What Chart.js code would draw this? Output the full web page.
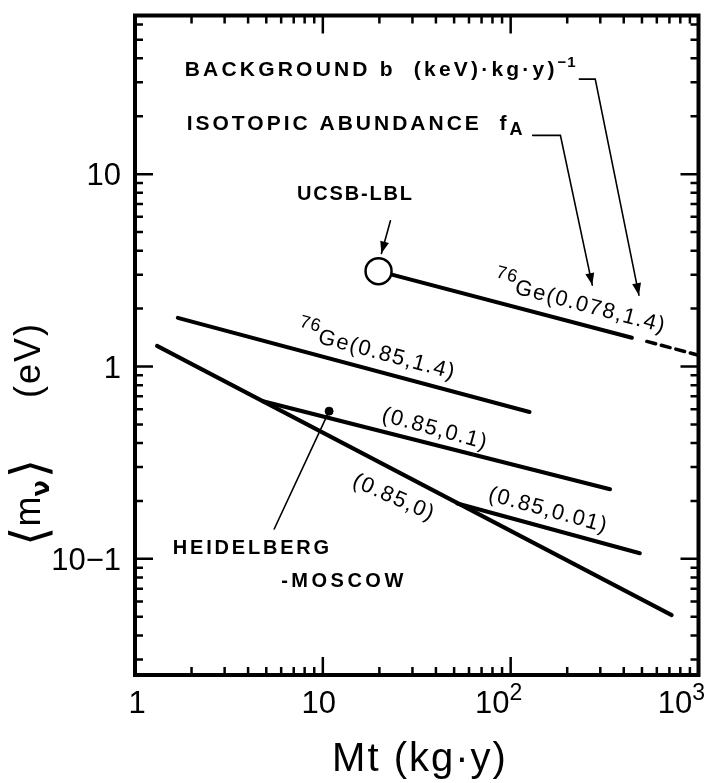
<!DOCTYPE html>
<html>
<head>
<meta charset="utf-8">
<script src="https://cdn.jsdelivr.net/npm/chart.js@4.4.1/dist/chart.umd.min.js"></script>
<style>
  html, body { margin: 0; padding: 0; background: #fff; }
  #wrap { width: 714px; height: 783px; }
</style>
</head>
<body>
<div id="wrap"><canvas id="plot" width="714" height="783"></canvas></div>
<script>
// exposure Mt (kg·y) against mass limit <m_nu> (eV)
const geHighBgMt = [1.69, 126];        // 76Ge(0.85,1.4)
const geHighBgMass = [1.79, 0.58];
const zeroBgMt = [1.31, 720];          // (0.85,0)
const zeroBgMass = [1.28, 0.051];
const bgTenthMt = [4.8, 338];          // (0.85,0.1)
const bgTenthMass = [0.66, 0.23];
const bgHundredthMt = [52, 487];       // (0.85,0.01)
const bgHundredthMass = [0.194, 0.107];
const ucsbMt = [19.8, 442];            // 76Ge(0.078,1.4)
const ucsbMass = [3.13, 1.41];
const ucsbExtMt = [531, 1000];         // dashed continuation
const ucsbExtMass = [1.35, 1.145];

const ucsbPointMt = [19.8];
const ucsbPointMass = [3.13];
const hmPointMt = [10.8];
const hmPointMass = [0.586];

// leader lines of the annotations
const bgLeaderMt = [232, 282, 482];
const bgLeaderMass = [31.2, 31.2, 2.35];
const faLeaderMt = [131, 184, 272];
const faLeaderMass = [15.9, 15.9, 2.65];
const ucsbArrowMt = [22.9, 20.5];
const ucsbArrowMass = [5.72, 3.87];
const hmLeaderMt = [5.51, 10.8];
const hmLeaderMass = [0.143, 0.586];

// axes
const xMin = 1, xMax = 1000;
const yMin = 0.0249, yMax = 66.8;
const xDecades = [1, 10, 100, 1000];
const xTickBase = ["1", "10", "10", "10"];
const xTickSup = ["", "", "2", "3"];
const yDecades = [0.1, 1, 10];
const yTickLabels = ["10\u22121", "1", "10"];

const FONT = '"Liberation Sans", Arial, sans-serif';
const DEJAVU = '"DejaVu Sans", sans-serif';

function toPoints(xs, ys) {
  return xs.map((x, i) => ({ x, y: ys[i] }));
}

function lineSet(xs, ys, width, dash) {
  return {
    data: toPoints(xs, ys),
    borderColor: "#000",
    borderWidth: width,
    borderDash: dash || [],
    borderCapStyle: "round",
    pointRadius: 0,
    fill: false,
    tension: 0
  };
}

function setSeg(ctx, s) {
  ctx.font = `${s.weight || "normal"} ${s.size}px ${s.family || FONT}`;
  ctx.letterSpacing = (s.spacing || 0) + "px";
}

function richWidth(ctx, segs) {
  let w = 0;
  segs.forEach((s) => {
    setSeg(ctx, s);
    w += ctx.measureText(s.t).width + (s.gap || 0);
  });
  return w;
}

function drawRich(ctx, x, y, segs, align) {
  let cx = x;
  if (align === "center") cx -= richWidth(ctx, segs) / 2;
  if (align === "right") cx -= richWidth(ctx, segs);
  ctx.textAlign = "left";
  ctx.textBaseline = "alphabetic";
  segs.forEach((s) => {
    setSeg(ctx, s);
    ctx.fillText(s.t, cx, y + (s.dy || 0));
    cx += ctx.measureText(s.t).width + (s.gap || 0);
  });
  ctx.letterSpacing = "0px";
}

function arrowHead(ctx, x0, y0, x1, y1) {
  const a = Math.atan2(y1 - y0, x1 - x0);
  ctx.save();
  ctx.translate(x1, y1);
  ctx.rotate(a);
  ctx.beginPath();
  ctx.moveTo(0, 0);
  ctx.lineTo(-12, -4.5);
  ctx.lineTo(-12, 4.5);
  ctx.closePath();
  ctx.fill();
  ctx.restore();
}

const ann = (t, extra) => Object.assign({ t, size: 20, spacing: 2.8, weight: "bold" }, extra || {});
const lab = (t, extra) => Object.assign({ t, size: 22, spacing: 1.5 }, extra || {});

// text placed along a line: at exposure "at", "offset" px above (negative = below)
const lineLabels = [
  { xs: geHighBgMt, ys: geHighBgMass, at: 18.2, offset: 12, tilt: 0,
    segs: [lab("76", { size: 18, dy: -11, spacing: 1 }), lab("Ge(0.85,1.4)")] },
  { xs: ucsbMt, ys: ucsbMass, at: 220, offset: 13, tilt: 0,
    segs: [lab("76", { size: 18, dy: -11, spacing: 1 }), lab("Ge(0.078,1.4)")] },
  { xs: bgTenthMt, ys: bgTenthMass, at: 37.7, offset: 9, tilt: 1,
    segs: [lab("(0.85,0.1)")] },
  { xs: bgHundredthMt, ys: bgHundredthMass, at: 150, offset: 11, tilt: 0,
    segs: [lab("(0.85,0.01)")] },
  { xs: zeroBgMt, ys: zeroBgMass, at: 27, offset: -31, tilt: -4,
    segs: [lab("(0.85,0)")] }
];

// free text, anchored in data coordinates
const textNotes = [
  { mt: 1.84, m: 32.5, align: "left",
    segs: [ann("BACKGROUND b  (keV)\u00b7kg\u00b7y)", { size: 21, spacing: 3.2 }), ann("\u22121", { size: 15, dy: -9, spacing: 1 })] },
  { mt: 1.884, m: 17.0, align: "left",
    segs: [ann("ISOTOPIC ABUNDANCE  f", { size: 21, spacing: 3 }), ann("A", { size: 18, dy: 5, spacing: 1 })] },
  { mt: 14.9, m: 7.3, align: "center", segs: [ann("UCSB-LBL", { spacing: 1.8 })] },
  { mt: 1.589, m: 0.1062, align: "left", segs: [ann("HEIDELBERG")] },
  { mt: 6.0, m: 0.071, align: "left", segs: [ann("-MOSCOW", { spacing: 3.5 })] }
];

const arrows = [
  [bgLeaderMt, bgLeaderMass],
  [faLeaderMt, faLeaderMass],
  [ucsbArrowMt, ucsbArrowMass]
];

const overlay = {
  id: "overlay",
  afterDraw(chart) {
    const ctx = chart.ctx;
    const xs = chart.scales.x;
    const ys = chart.scales.y;
    const area = chart.chartArea;
    ctx.save();
    ctx.fillStyle = "#000";
    ctx.strokeStyle = "#000";

    // frame
    ctx.lineWidth = 4;
    ctx.strokeRect(area.left, area.top, area.right - area.left, area.bottom - area.top);

    // inward ticks on all four sides
    ctx.lineWidth = 2.5;
    ctx.beginPath();
    [1, 10, 100].forEach((d) => {
      for (let k = 1; k <= 10; k++) {
        const v = d * k;
        if (v <= xMin || v >= xMax) continue;
        const len = k === 10 ? 18 : 8;
        const px = xs.getPixelForValue(v);
        ctx.moveTo(px, area.bottom); ctx.lineTo(px, area.bottom - len);
        ctx.moveTo(px, area.top); ctx.lineTo(px, area.top + len);
      }
    });
    [0.01, 0.1, 1, 10].forEach((d) => {
      for (let k = 1; k <= 9; k++) {
        const v = d * k;
        if (v <= yMin || v >= yMax) continue;
        const len = k === 1 ? 18 : 8;
        const py = ys.getPixelForValue(v);
        ctx.moveTo(area.left, py); ctx.lineTo(area.left + len, py);
        ctx.moveTo(area.right, py); ctx.lineTo(area.right - len, py);
      }
    });
    ctx.stroke();

    // tick labels
    yDecades.forEach((v, i) => {
      drawRich(ctx, area.left - 14, ys.getPixelForValue(v) + 11, [{ t: yTickLabels[i], size: 31 }], "right");
    });
    const xShift = [2, -4, -12, -17];
    xDecades.forEach((v, i) => {
      const segs = [{ t: xTickBase[i], size: 31 }];
      if (xTickSup[i]) segs.push({ t: xTickSup[i], size: 23, dy: -13 });
      drawRich(ctx, xs.getPixelForValue(v) + xShift[i], area.bottom + 38, segs, "center");
    });

    // axis titles
    drawRich(ctx, 420, 771, [{ t: "Mt (kg\u00b7y)", size: 40, spacing: 2 }], "center");
    ctx.save();
    ctx.translate(40, 546);
    ctx.rotate(-Math.PI / 2);
    drawRich(ctx, 0, 0, [
      { t: "\u27e8", size: 50, family: DEJAVU, dy: 6 },
      { t: "m", size: 36 },
      { t: "\u03bd", size: 24, dy: 9, weight: "bold", family: DEJAVU, gap: 2 },
      { t: "\u27e9", size: 50, family: DEJAVU, dy: 6 }
    ], "left");
    drawRich(ctx, 148, 0, [{ t: "(eV)", size: 36, spacing: 2 }], "left");
    ctx.restore();

    // arrowheads on the leaders
    arrows.forEach(([mx, my]) => {
      const n = mx.length;
      arrowHead(ctx,
        xs.getPixelForValue(mx[n - 2]), ys.getPixelForValue(my[n - 2]),
        xs.getPixelForValue(mx[n - 1]), ys.getPixelForValue(my[n - 1]));
    });

    // labels along the lines
    lineLabels.forEach((l) => {
      const x0 = xs.getPixelForValue(l.xs[0]), y0 = ys.getPixelForValue(l.ys[0]);
      const x1 = xs.getPixelForValue(l.xs[1]), y1 = ys.getPixelForValue(l.ys[1]);
      const ang = Math.atan2(y1 - y0, x1 - x0) + (l.tilt * Math.PI) / 180;
      const ax = xs.getPixelForValue(l.at);
      const t = (ax - x0) / (x1 - x0);
      const ay = y0 + t * (y1 - y0);
      ctx.save();
      ctx.translate(ax, ay);
      ctx.rotate(ang);
      drawRich(ctx, 0, -l.offset, l.segs, "center");
      ctx.restore();
    });

    // free annotations
    textNotes.forEach((n) => {
      drawRich(ctx, xs.getPixelForValue(n.mt), ys.getPixelForValue(n.m), n.segs, n.align);
    });

    ctx.restore();
  }
};

const ucsbPoint = {
  data: toPoints(ucsbPointMt, ucsbPointMass),
  showLine: false,
  pointRadius: 13,
  pointBackgroundColor: "#fff",
  pointBorderColor: "#000",
  pointBorderWidth: 2.5
};
const hmPoint = {
  data: toPoints(hmPointMt, hmPointMass),
  showLine: false,
  pointRadius: 4,
  pointBackgroundColor: "#000",
  pointBorderColor: "#000",
  pointBorderWidth: 1
};

new Chart(document.getElementById("plot"), {
  type: "line",
  data: {
    datasets: [
      ucsbPoint,
      hmPoint,
      lineSet(geHighBgMt, geHighBgMass, 4),
      lineSet(zeroBgMt, zeroBgMass, 4),
      lineSet(bgTenthMt, bgTenthMass, 4),
      lineSet(bgHundredthMt, bgHundredthMass, 4),
      lineSet(ucsbMt, ucsbMass, 4),
      lineSet(ucsbExtMt, ucsbExtMass, 3.5, [9, 6]),
      lineSet(bgLeaderMt, bgLeaderMass, 1.6),
      lineSet(faLeaderMt, faLeaderMass, 1.6),
      lineSet(ucsbArrowMt, ucsbArrowMass, 1.6),
      lineSet(hmLeaderMt, hmLeaderMass, 1.6)
    ]
  },
  options: {
    responsive: false,
    animation: false,
    devicePixelRatio: 1,
    events: [],
    layout: { padding: { top: 10, right: 12, left: 0, bottom: 0 } },
    plugins: {
      legend: { display: false },
      tooltip: { enabled: false }
    },
    scales: {
      x: {
        type: "logarithmic",
        min: xMin,
        max: xMax,
        ticks: { display: false },
        grid: { display: false },
        border: { display: false },
        afterFit: (scale) => { scale.height = 108; }
      },
      y: {
        type: "logarithmic",
        min: yMin,
        max: yMax,
        ticks: { display: false },
        grid: { display: false },
        border: { display: false },
        afterFit: (scale) => { scale.width = 135; }
      }
    }
  },
  plugins: [overlay]
});
</script>
</body>
</html>
